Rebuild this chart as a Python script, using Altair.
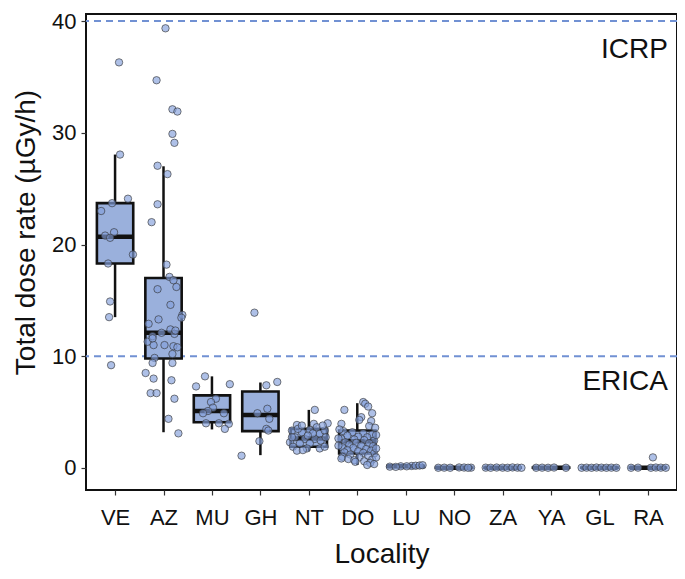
import altair as alt
import pandas as pd

localities = ["VE", "AZ", "MU", "GH", "NT", "DO", "LU", "NO", "ZA", "YA", "GL", "RA"]

# box statistics: lower whisker, q1, median, q3, upper whisker
box_lo  = [13.5, 3.2, 3.45, 1.15, 1.5, 0.27, 0.10, 0.02, 0.02, 0.02, 0.02, 0.02]
box_q1  = [18.3, 9.8, 4.1, 3.3, 1.9, 1.3, 0.10, 0.02, 0.02, 0.02, 0.02, 0.02]
box_med = [20.7, 12.1, 5.1, 4.75, 2.65, 2.4, 0.15, 0.03, 0.03, 0.03, 0.03, 0.03]
box_q3  = [23.7, 17.0, 6.5, 6.85, 3.5, 3.35, 0.20, 0.04, 0.04, 0.04, 0.04, 0.04]
box_hi  = [28.05, 27.0, 8.2, 7.65, 5.2, 5.8, 0.25, 0.05, 0.05, 0.05, 0.05, 0.05]

# individual observations (value, horizontal jitter read in px)
ve_val = [36.3, 28.05, 24.1, 23.7, 23.0, 21.1, 20.8, 20.6, 19.1, 18.3, 14.9, 13.5, 9.2]
ve_jit = [4, 5, 13, -3, -14, -1, -10, -5, 18, -7, -5, -6, -4]
az_val = [39.35, 34.7, 32.1, 31.9, 29.9, 29.1, 27.05, 26.3, 23.6, 22.0, 18.2, 17.1, 16.8, 16.2,
          16.0, 14.6, 13.7, 13.45, 13.3, 12.9, 12.4, 12.0, 12.1, 11.8, 11.3, 11.0, 11.0, 10.9,
          10.8, 10.2, 9.85, 9.4, 9.4, 8.5, 8.0, 7.85, 6.7, 6.7, 6.2, 4.4, 3.1, 11.6, 12.3]
az_jit = [2, -7, 9, 14, 9, 11, -6, 4, -6, -12, 3, 6, 10, 13,
          -6, 7, 19, 18, -5, -15, 7, 11, -2, -11, -16, -10, 1, 10,
          14, 9, -9, -11, 9, -18, -10, 8, -13, -7, 11, 5, 15, -11, 12]
mu_val = [8.2, 7.3, 7.5, 6.2, 5.9, 5.4, 5.1, 4.9, 4.9, 4.0, 4.0, 3.95, 3.5]
mu_jit = [-7, -16, 18, 4, -1, 1, -4, -9, 12, -6, 7, 17, 13]
gh_val = [13.9, 7.4, 7.7, 5.3, 4.9, 4.4, 3.5, 3.35, 2.4, 1.1]
gh_jit = [-6, 6, 17, 7, -3, 9, 6, 8, -1, -19]
nt_val = [5.2, 4.0, 3.85, 3.95, 3.4, 3.35, 3.2, 3.05, 3.35, 2.75, 2.6, 2.6, 2.45, 2.3, 2.2,
          2.2, 1.9, 1.75, 1.75, 1.55, 1.6, 1.9, 3.1, 3.5, 2.75, 2.75, 2.9, 3.65, 3.8, 3.8]
nt_jit = [6, 19, -12, 5, 1, -17, -7, 11, 16, -14, -4, 6, 12, -19, -9,
          1, -16, -2, 11, -12, -6, 16, 4, -11, -17, 17, -1, 8, 14, -7]
do_val = [5.9, 5.75, 5.5, 5.2, 4.9, 4.55, 4.2, 3.95, 4.3, 3.75,
          3.3, 3.2, 3.1, 3.0, 2.9, 2.8, 2.75, 2.6, 2.55, 2.5, 2.45, 2.3, 2.25, 2.2, 2.1,
          2.0, 1.95, 1.85, 1.8, 1.7, 1.6, 1.55, 1.5, 1.4, 1.35, 1.3, 1.2, 1.1, 1.0, 0.95,
          0.85, 0.8, 0.75, 0.7, 0.6, 0.55, 0.45, 0.35, 0.27, 3.45, 3.6, 2.95, 2.65, 2.0,
          1.75, 0.95]
do_jit = [6, 8, 11, -13, 15, 4, 14, -16, 2, 12,
          -14, -5, 6, 15, -10, 1, 10, -16, -3, 7, 17, -12, -1, 12, -8,
          4, 16, -15, -4, 9, -10, 14, 1, -13, 6, 17, -7, 11, -15, 2,
          -16, -9, 15, -3, 7, -2, 13, 17, 10, -18, 18, 19, -19, -19,
          19, 19]
lu_val = [0.12, 0.15, 0.18, 0.2, 0.22, 0.25, 0.1, 0.15]
lu_jit = [-16, -5, 6, 10, 14, 17, -10, 1]
no_val = [0.02, 0.03, 0.02, 0.05, 0.04, 0.03, 0.02]
no_jit = [-16, -10, -4, 5, 10, 17, 14]
za_val = [0.03, 0.02, 0.04, 0.03, 0.02, 0.05, 0.03, 0.02]
za_jit = [-17, -12, -6, 0, 5, 10, 15, 19]
ya_val = [0.02, 0.03, 0.02, 0.04, 0.02]
ya_jit = [-15, -9, -3, 3, 15]
gl_val = [0.02, 0.03, 0.02, 0.04, 0.03, 0.02, 0.03, 0.02]
gl_jit = [-18, -13, -8, -3, 2, 7, 12, 17]
ra_val = [0.02, 0.03, 0.02, 0.04, 0.03, 0.02, 0.95]
ra_jit = [-17, -10, 3, 8, 13, 18, 5]

thresholds = [40, 10]
threshold_labels = ["ICRP", "ERICA"]

FONT = "Liberation Sans"
STEP = 48.8          # pixel width of one category in the picture, turns read jitter into category units
BOX_HALF = 0.375     # ggplot default box width 0.75

groups = [ve_val, az_val, mu_val, gh_val, nt_val, do_val, lu_val, no_val, za_val, ya_val, gl_val, ra_val]
jits = [ve_jit, az_jit, mu_jit, gh_jit, nt_jit, do_jit, lu_jit, no_jit, za_jit, ya_jit, gl_jit, ra_jit]
rows = []
for i, (loc, vals, js) in enumerate(zip(localities, groups, jits), start=1):
    for v, j in zip(vals, js):
        rows.append({"loc": loc, "idx": i, "v": v, "jit": j / STEP})
pts = pd.DataFrame(rows)

box = pd.DataFrame({"loc": localities, "idx": list(range(1, len(localities) + 1)),
                    "lo": box_lo, "q1": box_q1, "med": box_med, "q3": box_q3, "hi": box_hi})

label_expr = "[" + ",".join("'%s'" % l for l in localities) + "][datum.value - 1]"
xscale = alt.Scale(domain=[0.4, len(localities) + 0.6], nice=False, zero=False)
yscale = alt.Scale(domain=[-1.97, 40.63], nice=False, zero=False)

x_axis = alt.Axis(title="Locality", values=list(range(1, len(localities) + 1)),
                  labelExpr=label_expr, labelAngle=0, domain=False, grid=False,
                  tickSize=5, tickColor="#333", tickWidth=1.2,
                  labelFontSize=22, labelColor="#111", labelFont=FONT,
                  labelPadding=12, labelFlush=False, labelOverlap=False,
                  titleFont=FONT, titleFontSize=28, titleFontWeight="normal",
                  titleColor="#111", titlePadding=12)
y_axis = alt.Axis(title="Total dose rate (µGy/h)", values=[0, 10, 20, 30, 40], grid=False,
                  domain=False, tickSize=5, tickColor="#333", tickWidth=1.2,
                  labelFontSize=22, labelColor="#111", labelFont=FONT, labelPadding=5,
                  labelFlush=False,
                  titleFont=FONT, titleFontSize=28, titleFontWeight="normal",
                  titleColor="#111", titlePadding=11, titleY=218)

base = alt.Chart(box).transform_calculate(
    xl="datum.idx - %f" % BOX_HALF, xr="datum.idx + %f" % BOX_HALF)

whisk_lo = base.mark_rule(color="#111", strokeWidth=2.5).encode(
    x=alt.X("idx:Q", scale=xscale, axis=x_axis),
    y=alt.Y("lo:Q", scale=yscale, axis=y_axis), y2="q1:Q")
whisk_hi = base.mark_rule(color="#111", strokeWidth=2.5).encode(
    x=alt.X("idx:Q", scale=xscale, axis=x_axis),
    y=alt.Y("q3:Q", scale=yscale, axis=y_axis), y2="hi:Q")
boxes = base.mark_rect(fill="#9ab0dc", stroke="#111", strokeWidth=2.6).encode(
    x=alt.X("xl:Q", scale=xscale, axis=x_axis), x2="xr:Q",
    y=alt.Y("q1:Q", scale=yscale, axis=y_axis), y2="q3:Q")
medians = base.mark_rule(color="#111", strokeWidth=4.5).encode(
    x=alt.X("xl:Q", scale=xscale, axis=x_axis), x2="xr:Q",
    y=alt.Y("med:Q", scale=yscale, axis=y_axis))

points = alt.Chart(pts).transform_calculate(xj="datum.idx + datum.jit").mark_circle(
    size=55, fill="#84a0da", fillOpacity=0.66, stroke="#333", strokeWidth=0.9,
    strokeOpacity=0.7, opacity=1).encode(
    x=alt.X("xj:Q", scale=xscale, axis=x_axis),
    y=alt.Y("v:Q", scale=yscale, axis=y_axis))

thr = pd.DataFrame({"t": thresholds})
lines = alt.Chart(thr).mark_rule(color="#7191d3", strokeDash=[7, 5], strokeWidth=2).encode(
    y=alt.Y("t:Q", scale=yscale, axis=y_axis))

icrp = alt.Chart(pd.DataFrame({"lab": [threshold_labels[0]]})).mark_text(
    align="right", baseline="middle", font=FONT, fontSize=28, color="#111").encode(
    x=alt.value(582), y=alt.datum(37.4, scale=yscale), text="lab:N")
erica = alt.Chart(pd.DataFrame({"lab": [threshold_labels[1]]})).mark_text(
    align="right", baseline="middle", font=FONT, fontSize=28, color="#111").encode(
    x=alt.value(582), y=alt.datum(7.7, scale=yscale), text="lab:N")

chart = alt.layer(lines, whisk_lo, whisk_hi, boxes, medians, points, icrp, erica).properties(
    width=591, height=476,
    autosize=alt.AutoSizeParams(type="none"),
    padding={"left": 78, "top": 6, "right": 0, "bottom": 81},
    background="white",
).configure_view(stroke="#111", strokeWidth=2)

chart.save("out.html", embed_options={"renderer": "svg", "actions": False})
